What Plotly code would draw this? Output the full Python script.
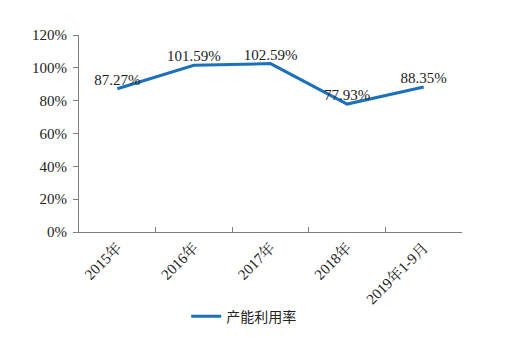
import plotly.graph_objects as go

categories = ["2015年", "2016年", "2017年", "2018年", "2019年1-9月"]
utilization = [87.27, 101.59, 102.59, 77.93, 88.35]
series_name = "产能利用率"

values = [v / 100 for v in utilization]
labels = [f"{v:.2f}%" for v in utilization]

font_family = "Liberation Serif, Times New Roman, Noto Serif CJK SC, Noto Sans CJK SC, serif"

fig = go.Figure()
fig.add_trace(go.Scatter(
    x=categories, y=values, mode="lines+text", name=series_name,
    text=labels, textposition="top center",
    textfont=dict(family=font_family, size=15, color="#222222"),
    line=dict(color="#1B72BB", width=3),
    cliponaxis=False,
))

fig.update_layout(
    width=516, height=338,
    margin=dict(l=79, r=54, t=35, b=106, autoexpand=False),
    paper_bgcolor="white", plot_bgcolor="white",
    font=dict(family=font_family, size=15, color="#222222"),
    showlegend=True,
    legend=dict(orientation="h", x=0.43, xanchor="center", y=-0.43, yanchor="middle",
                font=dict(family="Noto Sans CJK SC, sans-serif", size=14, color="#222222")),
)
fig.update_xaxes(
    type="category", range=[-0.5, 4.5], tickangle=-45, automargin=False,
    showline=True, linecolor="#7f7f7f", linewidth=1,
    ticks="inside", tickson="boundaries", ticklen=5, tickcolor="#7f7f7f",
    showgrid=False, tickfont=dict(size=15),
)
fig.update_yaxes(
    range=[0, 1.2], dtick=0.2, tickformat=".0%", automargin=False,
    showline=True, linecolor="#7f7f7f", linewidth=1,
    ticks="outside", ticklen=5, tickcolor="#7f7f7f",
    showgrid=False, zeroline=False, tickfont=dict(size=15),
    ticklabelstandoff=3,
)

fig.write_html("out.html")
